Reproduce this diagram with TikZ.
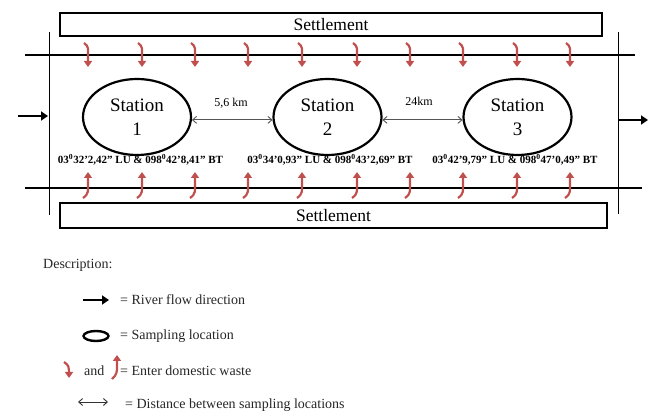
\documentclass[tikz,border=0pt]{standalone}
\usepackage{fontspec}
\setmainfont{Liberation Serif}
\usetikzlibrary{shapes.geometric,arrows.meta}
\definecolor{wred}{HTML}{C0504D}
\definecolor{dgray}{HTML}{555555}
\begin{document}
\begin{tikzpicture}[x=1pt,y=-1pt,
  settle/.style={draw,line width=2.4pt,inner sep=0pt,font=\fontsize{17.5}{20}\selectfont},
  station/.style={ellipse,draw,line width=2.2pt,minimum width=108pt,minimum height=76pt,inner sep=0pt,align=center,font=\fontsize{19}{24}\selectfont},
  riverline/.style={line width=2pt},
  bank/.style={line width=0.8pt},
  flow/.style={line width=2.6pt,-{Triangle[length=7pt,width=9pt]}},
  waste/.style={draw=wred,line width=2.2pt,-{Triangle[length=6pt,width=8pt]}},
  dist/.style={draw=dgray,line width=0.9pt,{Straight Barb[length=4pt,width=7pt]}-{Straight Barb[length=4pt,width=7pt]}},
  coordlbl/.style={font=\fontsize{11}{13}\selectfont\bfseries,inner sep=0pt},
  kmlbl/.style={font=\fontsize{12}{14}\selectfont,inner sep=0pt},
  legtxt/.style={anchor=west,inner sep=0pt,text=black!85,font=\fontsize{14}{16}\selectfont}]
\useasboundingbox (0,0) rectangle (654,414);

% settlements
\node[settle,minimum width=542pt,minimum height=23pt] (settop) at (331,24.5) {Settlement};
\node[settle,minimum width=547pt,minimum height=25pt] (setbot) at (333.5,215.5) {Settlement};

% river banks and lines
\coordinate (tl) at (25,55);  \coordinate (tr) at (635,55);
\coordinate (bl) at (25,188); \coordinate (br) at (642,188);
\draw[riverline] (tl) -- (tr);
\draw[riverline] (bl) -- (br);
\coordinate (vl1) at (49,32);  \coordinate (vl2) at (49,215);
\coordinate (vr1) at (618,32); \coordinate (vr2) at (618,214);
\draw[bank] (vl1) -- (vl2);
\draw[bank] (vr1) -- (vr2);

% flow arrows
\coordinate (fin1) at (18,116); \coordinate (fin2) at (48,116);
\draw[flow] (fin1) -- (fin2);
\coordinate (fout1) at (619,120); \coordinate (fout2) at (648,120);
\draw[flow,line width=2pt] (fout1) -- (fout2);

% stations
\node[station] (s1) at (137,117) {Station\\1};
\node[station] (s2) at (327.5,117) {Station\\2};
\node[station] (s3) at (517.5,117) {Station\\3};

% distances
\draw[dist] (s1.-3) -- (s2.-177);
\draw[dist] (s2.-3) -- (s3.-177);
\node[kmlbl] (d1) at (231,103) {5,6 km};
\node[kmlbl] (d2) at (419,101) {24km};

% coordinates
\node[coordlbl] (c1) at (140.5,160) {03\textsuperscript{0}32’2,42” LU \& 098\textsuperscript{0}42’8,41” BT};
\node[coordlbl] (c2) at (330,160) {03\textsuperscript{0}34’0,93” LU \& 098\textsuperscript{0}43’2,69” BT};
\node[coordlbl] (c3) at (515,160) {03\textsuperscript{0}42’9,79” LU \& 098\textsuperscript{0}47’0,49” BT};

% domestic waste arrows
\foreach \x in {88,142,195,248,302,357,410,463,517,570} {
  \draw[waste] (\x-4,43) .. controls (\x+1,46) and (\x,50) .. (\x,55) -- (\x,67);
  \draw[waste] (\x-5,198) .. controls (\x+1,194) and (\x,190) .. (\x,185) -- (\x,172);
}

% legend
\node[legtxt] (desc) at (43,265) {Description:};
\coordinate (la1) at (83,300); \coordinate (la2) at (109,300);
\draw[flow] (la1) -- (la2);
\node[legtxt] (l1) at (120,300) {= River flow direction};
\node[ellipse,draw,line width=2.4pt,minimum width=25pt,minimum height=10pt,inner sep=0pt] (le) at (96,336) {};
\node[legtxt] (l2) at (120,336) {= Sampling location};
\draw[waste] (64,362) .. controls (69,365) and (69,368) .. (69,371) -- (69,378);
\node[legtxt] (and) at (84,371) {and};
\draw[waste] (112,379) .. controls (117,375) and (117,371) .. (117,367) -- (117,355);
\node[legtxt] (l3) at (120,371) {= Enter domestic waste};
\coordinate (ld1) at (78,402); \coordinate (ld2) at (108,402);
\draw[dist,draw=black!80] (ld1) -- (ld2);
\node[legtxt] (l4) at (125,405) {= Distance between sampling locations};
\end{tikzpicture}
\end{document}
